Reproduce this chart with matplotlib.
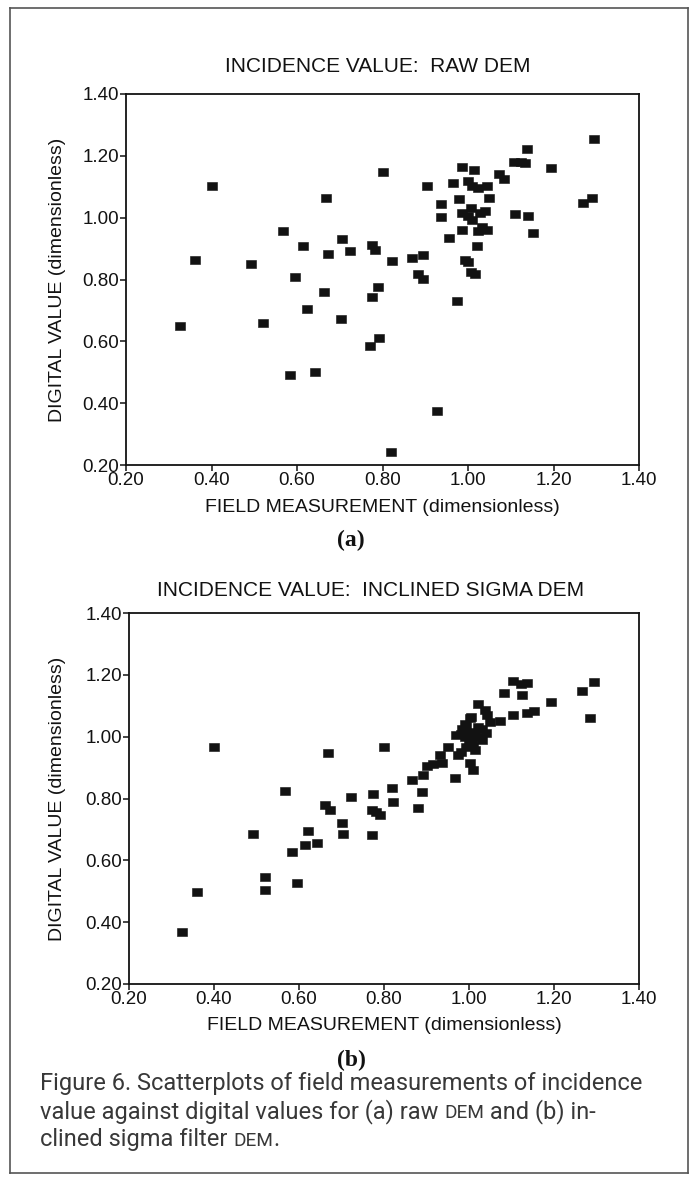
import matplotlib
matplotlib.use("Agg")
import matplotlib.pyplot as plt
from matplotlib.lines import Line2D
from matplotlib.ticker import FormatStrFormatter

# field measurement vs digital value, raw DEM (panel a)
raw_x = [0.326, 0.361, 0.400, 0.493, 0.521, 0.567, 0.596, 0.584, 0.614, 0.624,
         0.643, 0.663, 0.669, 0.673, 0.702, 0.706, 0.723, 0.775, 0.783, 0.775,
         0.790, 0.771, 0.791, 0.800, 0.823, 0.819, 0.870, 0.894, 0.883, 0.894,
         0.904, 0.927, 0.938, 0.938, 0.955, 0.966, 0.975, 0.978, 0.985, 0.985,
         0.987, 0.992, 1.001, 1.001, 1.008, 1.017, 1.015, 1.010, 1.024, 1.006,
         1.001, 1.010, 1.029, 1.040, 1.024, 1.033, 1.044, 1.022, 1.045, 1.050,
         1.072, 1.085, 1.107, 1.124, 1.133, 1.139, 1.109, 1.140, 1.153, 1.194,
         1.269, 1.289, 1.295]
raw_y = [0.649, 0.863, 1.103, 0.849, 0.660, 0.957, 0.809, 0.492, 0.908, 0.706,
         0.502, 0.758, 1.062, 0.882, 0.673, 0.931, 0.893, 0.912, 0.897, 0.745,
         0.776, 0.586, 0.611, 1.148, 0.859, 0.241, 0.870, 0.879, 0.817, 0.801,
         1.102, 0.374, 1.044, 1.001, 0.935, 1.111, 0.729, 1.059, 1.164, 1.014,
         0.960, 0.863, 0.856, 1.118, 0.825, 0.817, 1.155, 1.102, 1.096, 1.032,
         1.005, 0.994, 1.016, 1.023, 0.957, 0.970, 0.960, 0.908, 1.102, 1.065,
         1.141, 1.125, 1.181, 1.181, 1.177, 1.221, 1.013, 1.005, 0.949, 1.161,
         1.048, 1.065, 1.254]

# field measurement vs digital value, inclined sigma DEM (panel b)
sig_x = [0.325, 0.360, 0.400, 0.492, 0.520, 0.520, 0.567, 0.584, 0.595, 0.615,
         0.622, 0.643, 0.661, 0.672, 0.668, 0.700, 0.703, 0.722, 0.775, 0.772,
         0.780, 0.791, 0.772, 0.799, 0.819, 0.820, 0.867, 0.891, 0.890, 0.881,
         0.900, 0.916, 0.932, 0.936, 0.951, 0.967, 0.973, 0.981, 0.969, 0.983,
         0.994, 1.004, 0.990, 1.000, 1.008, 1.013, 1.000, 1.022, 1.030, 1.041,
         1.002, 1.010, 1.022, 1.038, 1.042, 1.050, 1.073, 1.082, 1.104, 1.124,
         1.122, 1.136, 1.104, 1.136, 1.153, 1.192, 1.267, 1.295, 1.285, 0.994,
         1.013, 0.990, 1.020, 1.010, 1.030, 0.980, 1.002]
sig_y = [0.369, 0.498, 0.967, 0.684, 0.547, 0.504, 0.824, 0.628, 0.528, 0.648,
         0.694, 0.657, 0.780, 0.762, 0.947, 0.721, 0.684, 0.804, 0.814, 0.764,
         0.755, 0.746, 0.681, 0.967, 0.835, 0.790, 0.860, 0.876, 0.822, 0.770,
         0.906, 0.911, 0.940, 0.915, 0.967, 0.867, 0.941, 0.949, 1.004, 1.024,
         1.033, 1.065, 1.000, 1.011, 0.990, 1.016, 0.979, 1.000, 1.024, 1.011,
         0.915, 0.892, 1.105, 1.086, 1.070, 1.049, 1.051, 1.141, 1.180, 1.135,
         1.169, 1.173, 1.070, 1.076, 1.083, 1.113, 1.148, 1.178, 1.061, 0.968,
         0.957, 1.040, 1.030, 0.970, 0.990, 1.010, 1.060]

ticks = [0.20, 0.40, 0.60, 0.80, 1.00, 1.20, 1.40]
titles = ["INCIDENCE VALUE:  RAW DEM", "INCIDENCE VALUE:  INCLINED SIGMA DEM"]
xlabel = "FIELD MEASUREMENT (dimensionless)"
ylabel = "DIGITAL VALUE (dimensionless)"
panel_tags = ["(a)", "(b)"]

W, H = 699, 1177
INK = "#121212"
SANS = "Liberation Sans"

fig = plt.figure(figsize=(W / 100, H / 100), dpi=100)


def fx(px):
    return px / W


def fy(py):
    return 1 - py / H


def box(l, t, r, b):
    return [fx(l), fy(b), (r - l) / W, (b - t) / H]


rect = [(-1, -0.68), (1, -0.68), (1, 0.68), (-1, 0.68), (-1, -0.68)]

panels = [
    dict(xs=raw_x, ys=raw_y, frame=(126, 94, 639, 465), title_y=67, title_x=378,
         xlab_y=507, tag_y=540),
    dict(xs=sig_x, ys=sig_y, frame=(129, 613, 639, 984), title_y=590, title_x=371,
         xlab_y=1026, tag_y=1060),
]

for i, p in enumerate(panels):
    l, t, r, b = p["frame"]
    ax = fig.add_axes(box(l, t, r, b))
    ax.plot(p["xs"], p["ys"], ls="none", marker=rect, ms=7.6, color=INK,
            mec=INK, mew=0.4)
    ax.set_xlim(0.2, 1.4)
    ax.set_ylim(0.2, 1.4)
    ax.set_xticks(ticks)
    ax.set_yticks(ticks)
    ax.xaxis.set_major_formatter(FormatStrFormatter("%.2f"))
    ax.yaxis.set_major_formatter(FormatStrFormatter("%.2f"))
    ax.tick_params(direction="out", length=4, width=1.1, pad=1, labelsize=13.5,
                   colors=INK, top=False, right=False)
    for lab in ax.get_xticklabels() + ax.get_yticklabels():
        lab.set_family(SANS)
    for s in ax.spines.values():
        s.set_linewidth(1.3)
        s.set_color(INK)

    fig.text(fx(p["title_x"]), fy(p["title_y"]), titles[i], ha="center",
             va="center", fontsize=15, family=SANS, color=INK)
    fig.text(fx((l + r) / 2), fy(p["xlab_y"]), xlabel, ha="center", va="center",
             fontsize=14, family=SANS, color=INK)
    fig.text(fx(58), fy((t + b) / 2), ylabel, ha="center", va="center",
             rotation=90, fontsize=14, family=SANS, color=INK)
    fig.text(fx(351), fy(p["tag_y"]), panel_tags[i], ha="center", va="center",
             fontsize=17, family="Liberation Serif", weight="bold", color=INK)

# caption, with DEM set in small caps
caption = [
    [("Figure 6. Scatterplots of field measurements of incidence", 1.0)],
    [("value against digital values for (a) raw ", 1.0), ("DEM", 0.8),
     (" and (b) in-", 1.0)],
    [("clined sigma filter ", 1.0), ("DEM", 0.8), (".", 1.0)],
]
cap_y = [1090, 1118, 1146]
cap_font = "Roboto"
cap_col = "#383838"

renderer = fig.canvas.get_renderer()
probe = fig.text(0, 0, caption[0][0][0], fontsize=10, family=cap_font)
w10 = probe.get_window_extent(renderer).width
probe.remove()
cap_size = 10 * 604 / w10

for segs, yy in zip(caption, cap_y):
    x = fx(40)
    for txt, sc in segs:
        t = fig.text(x, fy(yy), txt, fontsize=cap_size * sc, family=cap_font,
                     color=cap_col, va="baseline")
        x = t.get_window_extent(renderer).x1 / W

# page frame
for xs, ys in [((10, 10), (8, 1173)), ((688, 688), (8, 1173)),
               ((10, 688), (8, 8)), ((10, 688), (1173, 1173))]:
    fig.add_artist(Line2D([fx(v) for v in xs], [fy(v) for v in ys],
                          color="#555555", lw=1.2))

fig.savefig("out.png", dpi=100)
